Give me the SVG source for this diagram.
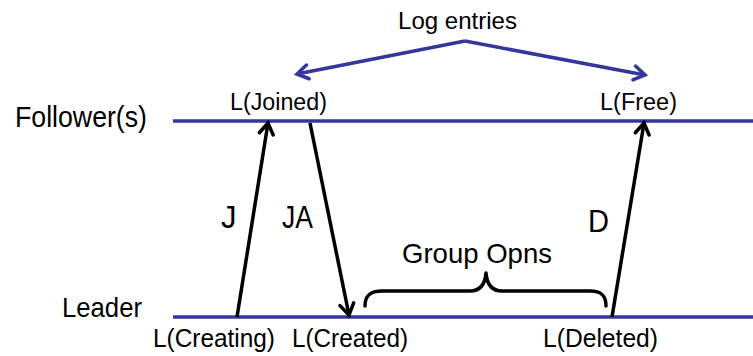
<svg xmlns="http://www.w3.org/2000/svg" width="753" height="356" viewBox="0 0 753 356">
  <style>
    text { font-family: "Liberation Sans", Arial, sans-serif; fill: #000; }
    .lane { stroke: #35359b; stroke-width: 3.5; fill: none; }
    .msg { stroke: #000; stroke-width: 3.5; fill: none; marker-end: url(#headBlack); }
    .log { stroke: #35359b; stroke-width: 3.5; fill: none; marker-end: url(#headBlue); }
    .brace { stroke: #000; stroke-width: 3.5; fill: none; stroke-linecap: round; stroke-linejoin: round; }
  </style>
  <defs>
    <marker id="headBlack" markerUnits="userSpaceOnUse" markerWidth="30" markerHeight="30" viewBox="-15 -15 30 30" refX="0" refY="0" orient="auto">
      <path d="M-11,-7 L0,0 L-11,7" fill="none" stroke="#000" stroke-width="3.5" stroke-linecap="round" stroke-linejoin="miter"/>
    </marker>
    <marker id="headBlue" markerUnits="userSpaceOnUse" markerWidth="30" markerHeight="30" viewBox="-15 -15 30 30" refX="0" refY="0" orient="auto">
      <path d="M-11,-7 L0,0 L-11,7" fill="none" stroke="#35359b" stroke-width="3.5" stroke-linecap="round" stroke-linejoin="miter"/>
    </marker>
  </defs>

  <!-- timelines -->
  <g id="follower">
    <line class="lane" x1="173" y1="121" x2="753" y2="121"/>
    <text x="15" y="127" font-size="30" textLength="132" lengthAdjust="spacingAndGlyphs">Follower(s)</text>
  </g>
  <g id="leader">
    <line class="lane" x1="173" y1="317" x2="753" y2="317"/>
    <text x="62" y="317" font-size="28" textLength="80" lengthAdjust="spacingAndGlyphs">Leader</text>
  </g>

  <!-- log entry labels -->
  <g id="log-entries">
    <text x="398" y="29" font-size="24" textLength="119" lengthAdjust="spacingAndGlyphs">Log entries</text>
  </g>
  <g id="l-joined"><text x="230" y="110" font-size="23" textLength="97" lengthAdjust="spacingAndGlyphs">L(Joined)</text></g>
  <g id="l-free"><text x="600" y="110" font-size="23" textLength="77" lengthAdjust="spacingAndGlyphs">L(Free)</text></g>
  <g id="l-creating"><text x="153" y="347" font-size="26" textLength="122" lengthAdjust="spacingAndGlyphs">L(Creating)</text></g>
  <g id="l-created"><text x="292" y="347" font-size="26" textLength="116" lengthAdjust="spacingAndGlyphs">L(Created)</text></g>
  <g id="l-deleted"><text x="543" y="347" font-size="26" textLength="115" lengthAdjust="spacingAndGlyphs">L(Deleted)</text></g>

  <!-- group operations span -->
  <g id="group-opns">
    <path class="brace" d="M365,306 C365,296 370,291 382,291 L470,291 C480,291 485,285 486,273 C487,285 492,291 502,291 L590,291 C602,291 606,296 606,306"/>
    <text x="402" y="263" font-size="28" textLength="150" lengthAdjust="spacingAndGlyphs">Group Opns</text>
  </g>

  <!-- message labels -->
  <g id="label-j"><text x="221" y="228" font-size="31">J</text></g>
  <g id="label-ja"><text x="282" y="228" font-size="31" textLength="31" lengthAdjust="spacingAndGlyphs">JA</text></g>
  <g id="label-d"><text x="588" y="232" font-size="31" textLength="21" lengthAdjust="spacingAndGlyphs">D</text></g>

  <!-- connectors -->
  <g id="connectors">
    <path class="log" d="M465,41 L297,74"/>
    <path class="log" d="M465,41 L645,75"/>
    <path class="msg" d="M237,317 L268,123"/>
    <path class="msg" d="M310,123 L349,315"/>
    <path class="msg" d="M612,317 L644,123"/>
  </g>
</svg>
